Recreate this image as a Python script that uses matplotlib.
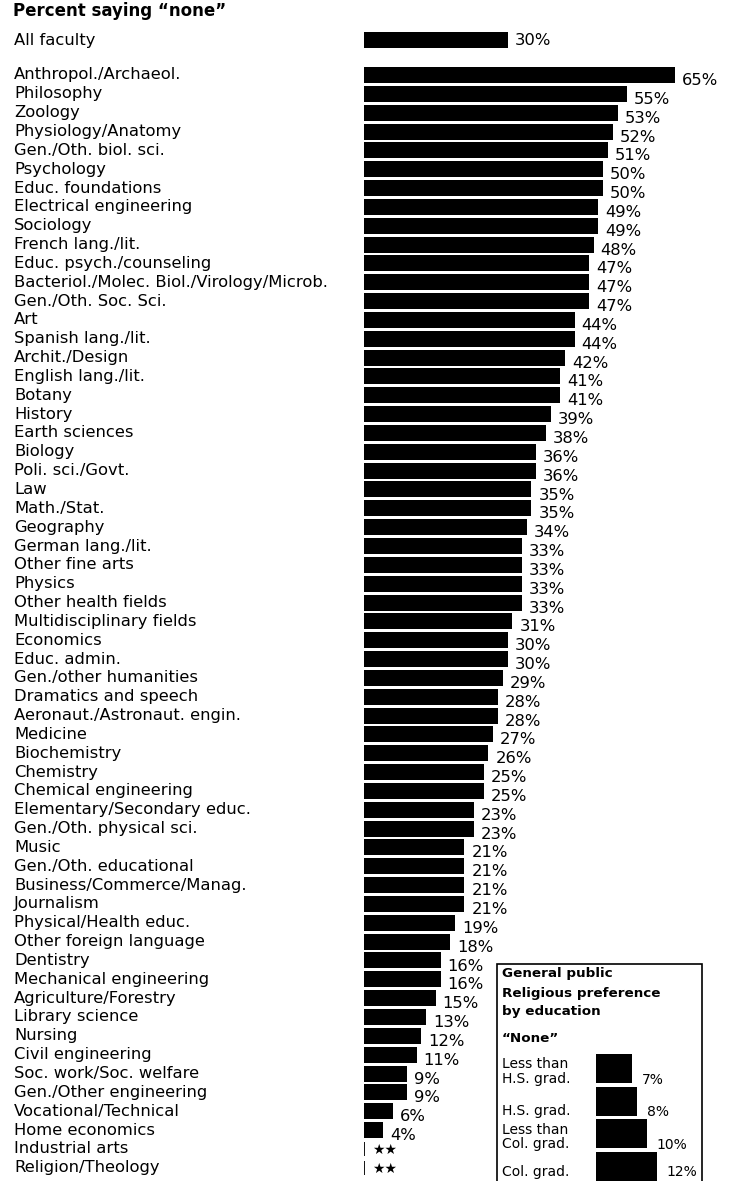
import matplotlib
matplotlib.use('Agg')
import matplotlib.pyplot as plt
from matplotlib.transforms import blended_transform_factory
from matplotlib.patches import Rectangle

plt.rcParams['font.family'] = 'DejaVu Sans'

# data (None = "**", too few cases)
all_faculty = 30
fields = ['Anthropol./Archaeol.', 'Philosophy', 'Zoology', 'Physiology/Anatomy',
          'Gen./Oth. biol. sci.', 'Psychology', 'Educ. foundations',
          'Electrical engineering', 'Sociology', 'French lang./lit.',
          'Educ. psych./counseling', 'Bacteriol./Molec. Biol./Virology/Microb.',
          'Gen./Oth. Soc. Sci.', 'Art', 'Spanish lang./lit.', 'Archit./Design',
          'English lang./lit.', 'Botany', 'History', 'Earth sciences', 'Biology',
          'Poli. sci./Govt.', 'Law', 'Math./Stat.', 'Geography', 'German lang./lit.',
          'Other fine arts', 'Physics', 'Other health fields',
          'Multidisciplinary fields', 'Economics', 'Educ. admin.',
          'Gen./other humanities', 'Dramatics and speech',
          'Aeronaut./Astronaut. engin.', 'Medicine', 'Biochemistry', 'Chemistry',
          'Chemical engineering', 'Elementary/Secondary educ.',
          'Gen./Oth. physical sci.', 'Music', 'Gen./Oth. educational',
          'Business/Commerce/Manag.', 'Journalism', 'Physical/Health educ.',
          'Other foreign language', 'Dentistry', 'Mechanical engineering',
          'Agriculture/Forestry', 'Library science', 'Nursing', 'Civil engineering',
          'Soc. work/Soc. welfare', 'Gen./Other engineering', 'Vocational/Technical',
          'Home economics', 'Industrial arts', 'Religion/Theology']
values = [65, 55, 53, 52, 51, 50, 50, 49, 49, 48, 47, 47, 47, 44, 44, 42, 41, 41,
          39, 38, 36, 36, 35, 35, 34, 33, 33, 33, 33, 31, 30, 30, 29, 28, 28, 27,
          26, 25, 25, 23, 23, 21, 21, 21, 21, 19, 18, 16, 16, 15, 13, 12, 11, 9, 9,
          6, 4, None, None]

edu_labels = ['Less than\nH.S. grad.', 'H.S. grad.', 'Less than\nCol. grad.', 'Col. grad.']
edu_values = [7, 8, 10, 12]

W, H = 731, 1181
fig = plt.figure(figsize=(W / 100, H / 100), dpi=100)

FS = 11.8

# main bars: row 0 centred at y=75 px, 18.84 px per row
row_px = 18.84
top_px = 75 - 2.5 * row_px
bot_px = 75 + 58.5 * row_px
ax = fig.add_axes([364 / W, 1 - bot_px / H, 311 / W, (bot_px - top_px) / H])
ax.set_xlim(0, 65)
ax.set_ylim(58.5, -2.5)
ax.axis('off')

rows = list(range(len(fields)))
bar_vals = [v if v is not None else 0 for v in values]
ax.barh(rows, bar_vals, height=0.85, color='black')
ax.barh(-1.85, all_faculty, height=0.85, color='black')

trans = blended_transform_factory(fig.transFigure, ax.transData)
ax.text(14 / W, -1.85, 'All faculty', transform=trans, va='center', fontsize=FS)
ax.annotate(f'{all_faculty}%', xy=(all_faculty, -1.85), xytext=(5, 0),
            textcoords='offset points', va='center', fontsize=FS)

for r, name, v in zip(rows, fields, values):
    ax.text(14 / W, r, name, transform=trans, va='center', fontsize=FS)
    if v is None:
        ax.vlines(0, r - 0.38, r + 0.38, color='black', lw=1.3)
        ax.annotate('★★', xy=(0, r), xytext=(6, -1), textcoords='offset points',
                    va='center', fontsize=10)
    else:
        ax.annotate(f'{v}%', xy=(v, r), xytext=(5, -4), textcoords='offset points',
                    va='center', fontsize=FS)

fig.text(13 / W, 1 - 11 / H, 'Percent saying \u201cnone\u201d', fontsize=12,
         fontweight='bold', va='center')

# inset: general public
fig.patches.append(Rectangle((497 / W, -0.02), (702 - 497) / W, 0.02 + 1 - 964 / H,
                             transform=fig.transFigure, fill=False, lw=1.2,
                             edgecolor='black'))
for txt, y in [('General public', 974), ('Religious preference', 994),
               ('by education', 1011), ('\u201cNone\u201d', 1038)]:
    fig.text(502 / W, 1 - y / H, txt, fontsize=9.7, fontweight='bold', va='center')

ax2 = fig.add_axes([596 / W, 1 - 1182.95 / H, 106 / W, (1182.95 - 1052.15) / H])
ax2.set_xlim(0, 106 / 5.1)
ax2.set_ylim(3.5, -0.5)
ax2.axis('off')
erows = list(range(len(edu_values)))
ax2.barh(erows, edu_values, height=0.89, color='black')
trans2 = blended_transform_factory(fig.transFigure, ax2.transData)
for r, lab, v in zip(erows, edu_labels, edu_values):
    dy = 0.1 if '\n' in lab else 0.3
    if r == len(erows) - 1:
        dy = 0.15
    ax2.text(502 / W, r + dy, lab, transform=trans2, va='center', fontsize=10,
             linespacing=1.05)
    off = -8 if r < len(erows) - 1 else -4
    ax2.annotate(f'{v}%', xy=(v, r), xytext=(7, off), textcoords='offset points',
                 va='center', fontsize=10)

fig.savefig('out.png', dpi=100)
